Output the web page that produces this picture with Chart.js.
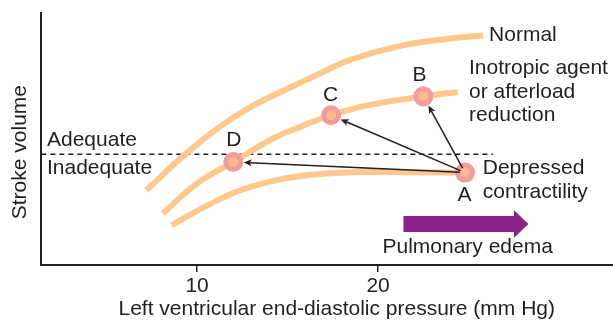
<!DOCTYPE html>
<html>
<head>
<meta charset="utf-8">
<script src="https://cdn.jsdelivr.net/npm/chart.js@4.4.1/dist/chart.umd.min.js"></script>
<style>
  html, body { margin: 0; padding: 0; overflow: hidden; background: #fff; }
  canvas { display: block; }
</style>
</head>
<body>
<canvas id="chart1" width="645" height="322"></canvas>
<script>
// x axis: LVEDP (mm Hg), y axis: stroke volume (arbitrary units 0-100)
var xTicks = [10, 20];

var normalX = [7.2, 9.4, 11.5, 13.3, 15.2, 16.8, 18.5, 21.3, 24.0, 25.8];
var normalY = [29.6, 44.2, 56.0, 63.9, 70.5, 75.9, 81.4, 86.9, 89.7, 90.9];

var inotropicX = [8.1, 10.0, 12.0, 14.2, 15.7, 17.4, 19.4, 22.5, 24.4];
var inotropicY = [20.4, 32.3, 40.8, 50.1, 54.7, 59.3, 63.2, 66.8, 68.5];

var depressedX = [8.6, 10.6, 12.4, 14.6, 16.8, 19.4, 24.8];
var depressedY = [15.8, 23.7, 29.6, 33.9, 36.0, 36.8, 36.6];

var pointNames = ["A", "B", "C", "D"];
var pointX = [24.8, 22.5, 17.4, 12.0];
var pointY = [36.6, 66.8, 59.3, 40.8];

var thresholdX = [1.4, 26.35];
var thresholdY = 43.9;

// arrows go from A to each of these
var arrowTargets = ["B", "C", "D"];

var textColor = '#231f20';
var curveColor = '#fec88e';
var font = '21px "Liberation Sans", Arial, Helvetica, sans-serif';

// annotation texts (anchored in data units)
var notes = [
    { text: "Normal", x: 26.13, y: 90.9, align: 'left' },
    { text: "Inotropic agent", x: 25.02, y: 77.9, align: 'left' },
    { text: "or afterload", x: 25.02, y: 68.4, align: 'left' },
    { text: "reduction", x: 25.02, y: 59.3, align: 'left' },
    { text: "B", x: 22.28, y: 75.1, align: 'center' },
    { text: "C", x: 17.38, y: 67.2, align: 'center' },
    { text: "D", x: 12.03, y: 49.4, align: 'center' },
    { text: "A", x: 24.77, y: 27.7, align: 'center' },
    { text: "Depressed", x: 25.78, y: 38.3, align: 'left' },
    { text: "contractility", x: 25.78, y: 28.9, align: 'left' },
    { text: "Adequate", x: 1.71, y: 49.4, align: 'left' },
    { text: "Inadequate", x: 1.71, y: 38.3, align: 'left' },
    { text: "Pulmonary edema", x: 20.24, y: 7.1, align: 'left' }
];

// purple arrow for pulmonary edema
var edemaArrow = { x0: 21.4, x1: 28.3, headAt: 27.5, y: 16.2 };

function zip(xs, ys) {
    return xs.map(function(x, i) { return { x: x, y: ys[i] }; });
}

function curve(xs, ys) {
    return {
        data: zip(xs, ys),
        showLine: true,
        borderColor: curveColor,
        borderWidth: 6,
        borderCapStyle: 'butt',
        pointRadius: 0,
        tension: 0.4,
        fill: false
    };
}

var annotate = {
    id: 'annotate',
    afterDatasetsDraw: function(chart) {
        var ctx = chart.ctx;
        var sx = chart.scales.x, sy = chart.scales.y;
        ctx.save();

        // black arrows A -> B, C, D
        var a = pointNames.indexOf("A");
        var ax = sx.getPixelForValue(pointX[a]), ay = sy.getPixelForValue(pointY[a]);
        ctx.strokeStyle = textColor;
        ctx.fillStyle = textColor;
        ctx.lineWidth = 1.5;
        arrowTargets.forEach(function(name) {
            var i = pointNames.indexOf(name);
            var tx = sx.getPixelForValue(pointX[i]), ty = sy.getPixelForValue(pointY[i]);
            var dx = tx - ax, dy = ty - ay;
            var len = Math.sqrt(dx * dx + dy * dy);
            var ux = dx / len, uy = dy / len;
            var x0 = ax + ux * 5, y0 = ay + uy * 5;
            var x1 = tx - ux * 10.5, y1 = ty - uy * 10.5;
            var bx = x1 - ux * 8, by = y1 - uy * 8;
            ctx.beginPath();
            ctx.moveTo(x0, y0);
            ctx.lineTo(bx + ux * 2, by + uy * 2);
            ctx.stroke();
            ctx.beginPath();
            ctx.moveTo(x1, y1);
            ctx.lineTo(bx - uy * 3.5, by + ux * 3.5);
            ctx.lineTo(bx + ux * 2, by + uy * 2);
            ctx.lineTo(bx + uy * 3.5, by - ux * 3.5);
            ctx.closePath();
            ctx.fill();
        });

        // purple block arrow
        var px0 = sx.getPixelForValue(edemaArrow.x0);
        var px1 = sx.getPixelForValue(edemaArrow.x1);
        var ph = sx.getPixelForValue(edemaArrow.headAt);
        var py = sy.getPixelForValue(edemaArrow.y);
        ctx.fillStyle = '#8c2388';
        ctx.beginPath();
        ctx.moveTo(px0, py - 8);
        ctx.lineTo(ph, py - 8);
        ctx.lineTo(ph, py - 14);
        ctx.lineTo(px1, py);
        ctx.lineTo(ph, py + 14);
        ctx.lineTo(ph, py + 8);
        ctx.lineTo(px0, py + 8);
        ctx.closePath();
        ctx.fill();

        // texts
        ctx.font = font;
        ctx.fillStyle = textColor;
        ctx.textBaseline = 'middle';
        notes.forEach(function(n) {
            ctx.textAlign = n.align;
            ctx.fillText(n.text, sx.getPixelForValue(n.x), sy.getPixelForValue(n.y));
        });

        // y axis title
        ctx.translate(sy.left + 20, sy.getPixelForValue(44.7));
        ctx.rotate(-Math.PI / 2);
        ctx.textAlign = 'center';
        ctx.fillText("Stroke volume", 0, 0);

        ctx.restore();
    }
};

var ctx = document.getElementById('chart1');
var myChart = new Chart(ctx, {
    type: 'scatter',
    data: {
        datasets: [
            {
                data: zip(pointX, pointY),
                pointRadius: 7.5,
                pointHoverRadius: 7.5,
                pointBackgroundColor: '#fbb98c',
                pointBorderColor: '#f39c9c',
                pointBorderWidth: 5
            },
            curve(normalX, normalY),
            curve(inotropicX, inotropicY),
            curve(depressedX, depressedY),
            {
                data: zip(thresholdX, [thresholdY, thresholdY]),
                showLine: true,
                borderColor: textColor,
                borderWidth: 1.5,
                borderDash: [5, 4],
                pointRadius: 0
            }
        ]
    },
    options: {
        responsive: false,
        animation: false,
        events: [],
        layout: { padding: { top: 12, right: 0, bottom: 0, left: 0 } },
        plugins: {
            legend: { display: false },
            tooltip: { enabled: false }
        },
        scales: {
            x: {
                type: 'linear',
                min: 1.38,
                max: 34.05,
                afterBuildTicks: function(scale) {
                    scale.ticks = xTicks.map(function(v) { return { value: v }; });
                },
                afterFit: function(scale) {
                    scale.height = 57;
                },
                grid: {
                    drawOnChartArea: false,
                    drawTicks: true,
                    tickLength: 7,
                    color: textColor,
                    lineWidth: 1.5
                },
                border: { display: true, color: textColor, width: 2 },
                ticks: {
                    color: textColor,
                    font: { family: '"Liberation Sans", Arial, sans-serif', size: 21 },
                    padding: 2,
                    maxRotation: 0
                },
                title: {
                    display: true,
                    text: 'Left ventricular end-diastolic pressure (mm Hg)',
                    color: textColor,
                    font: { family: '"Liberation Sans", Arial, sans-serif', size: 21 },
                    padding: { top: 0, bottom: 0 }
                }
            },
            y: {
                type: 'linear',
                min: 0,
                max: 100,
                afterFit: function(scale) {
                    scale.width = 41;
                },
                grid: { display: false },
                border: { display: true, color: textColor, width: 2 },
                ticks: { display: false }
            }
        }
    },
    plugins: [annotate]
});
</script>
</body>
</html>
